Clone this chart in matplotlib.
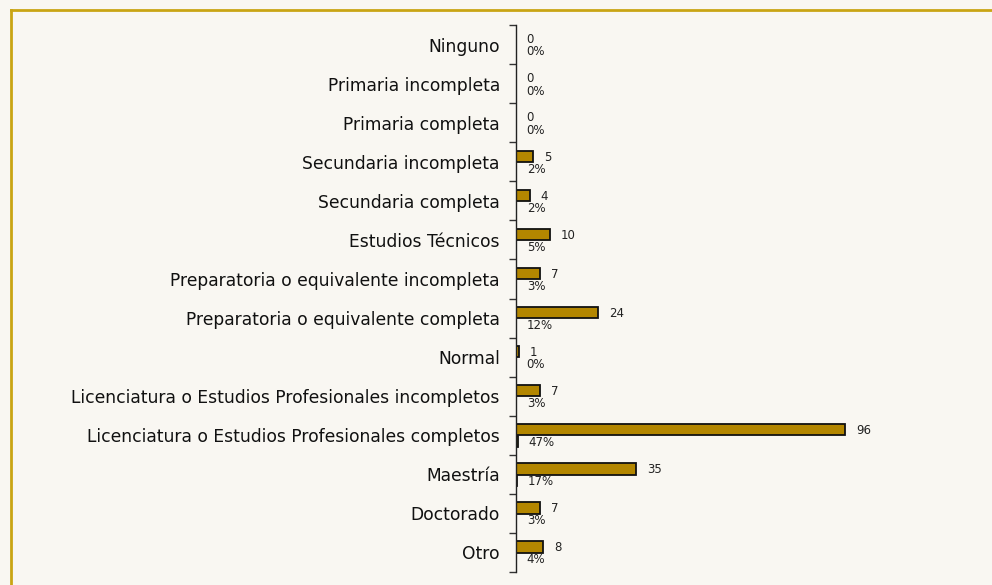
import numpy as np
import matplotlib
matplotlib.use('Agg')
import matplotlib.pyplot as plt
from matplotlib.lines import Line2D

CATEGORIES = [
    'Ninguno',
    'Primaria incompleta',
    'Primaria completa',
    'Secundaria incompleta',
    'Secundaria completa',
    'Estudios Técnicos',
    'Preparatoria o equivalente incompleta',
    'Preparatoria o equivalente completa',
    'Normal',
    'Licenciatura o Estudios Profesionales incompletos',
    'Licenciatura o Estudios Profesionales completos',
    'Maestría',
    'Doctorado',
    'Otro',
]
COUNTS = [0, 0, 0, 5, 4, 10, 7, 24, 1, 7, 96, 35, 7, 8]
PERCENTS = [0, 0, 0, 2, 2, 5, 3, 12, 0, 3, 47, 17, 3, 4]

GOLD = '#b38600'
FRAME = '#c9a514'
BG = '#f9f7f2'

plt.rcParams['font.family'] = ['DejaVu Sans']

fig = plt.figure(figsize=(9.92, 5.85), dpi=100, facecolor=BG)
ax = fig.add_axes([516 / 992, 13 / 585, (985 - 516) / 992, 547 / 585])
ax.set_facecolor('none')

y = np.arange(len(CATEGORIES))
ax.barh(y - 0.14, COUNTS, height=0.29, color=GOLD, edgecolor='#111111', linewidth=1.3)
ax.barh(y + 0.16, np.array(PERCENTS) / 100.0, height=0.3, color=GOLD,
        edgecolor='#111111', linewidth=1.3)

px_per_unit = 3.43
ax.set_xlim(0, ax.get_position().width * 992 / px_per_unit)
ax.set_ylim(len(CATEGORIES) - 0.5, -0.5)

off = 3.1
for i, (c, p) in enumerate(zip(COUNTS, PERCENTS)):
    ax.text(c + off, i - 0.12, str(c), va='center', ha='left', fontsize=8.5, color='#222222')
    ax.text(p / 100.0 + off, i + 0.19, f'{p}%', va='center', ha='left', fontsize=8.5, color='#222222')

# boundaries ticks, labels at centers
ax.set_yticks(np.arange(-0.5, len(CATEGORIES) + 0.5, 1.0))
ax.set_yticklabels([])
ax.set_yticks(y, minor=True)
ax.set_yticklabels(CATEGORIES, minor=True, fontsize=12.3, color='#111111')
ax.tick_params(axis='y', which='major', length=5, width=1, color='#333333')
ax.tick_params(axis='y', which='minor', length=0, pad=11.7)
ax.set_xticks([])
for s in ['top', 'right', 'bottom']:
    ax.spines[s].set_visible(False)
ax.spines['left'].set_color('#222222')
ax.spines['left'].set_linewidth(1)

# gold frame on top and left
fig.add_artist(Line2D([11 / 992, 1.0], [1 - 10 / 585, 1 - 10 / 585], color=FRAME, lw=2,
                      transform=fig.transFigure))
fig.add_artist(Line2D([11 / 992, 11 / 992], [0, 1 - 10 / 585], color=FRAME, lw=2,
                      transform=fig.transFigure))

fig.savefig('out.png', dpi=100, facecolor=BG)
